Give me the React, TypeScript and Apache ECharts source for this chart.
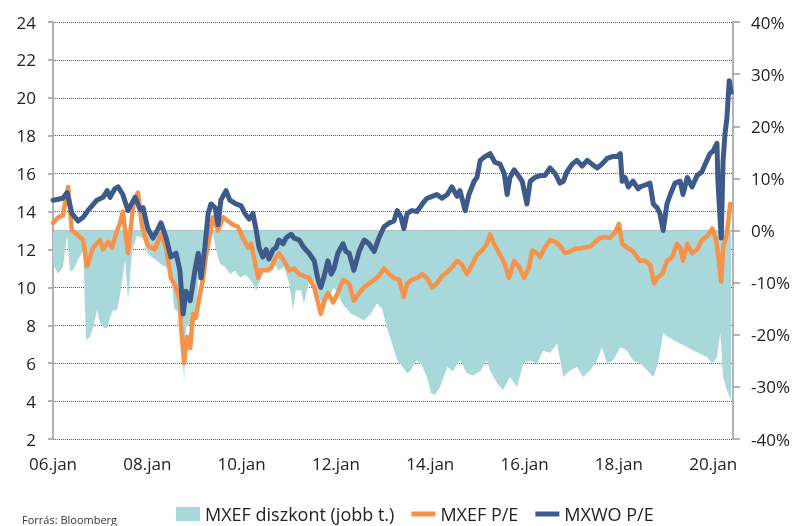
import React, { useEffect, useRef } from "react";
import * as echarts from "echarts";

// X positions are decimal years (2006.00 = Jan 2006)
const tickYears = [2006, 2008, 2010, 2012, 2014, 2016, 2018, 2020];

const mxwoYears = [
  2006.0, 2006.11, 2006.21, 2006.3, 2006.4, 2006.53, 2006.64, 2006.74, 2006.93, 2007.06, 2007.15, 2007.21,
  2007.31, 2007.38, 2007.48, 2007.59, 2007.74, 2007.85, 2007.91, 2008.01, 2008.12, 2008.21, 2008.29, 2008.4,
  2008.5, 2008.61, 2008.69, 2008.76, 2008.82, 2008.91, 2009.01, 2009.08, 2009.14, 2009.22, 2009.29, 2009.35,
  2009.44, 2009.5, 2009.56, 2009.67, 2009.75, 2009.88, 2009.99, 2010.07, 2010.16, 2010.24, 2010.31, 2010.37,
  2010.45, 2010.52, 2010.58, 2010.67, 2010.73, 2010.79, 2010.88, 2010.94, 2011.05, 2011.11, 2011.22, 2011.32,
  2011.43, 2011.54, 2011.62, 2011.68, 2011.75, 2011.83, 2011.9, 2011.96, 2012.04, 2012.15, 2012.21, 2012.28,
  2012.38, 2012.49, 2012.6, 2012.7, 2012.81, 2012.91, 2013.02, 2013.13, 2013.23, 2013.3, 2013.38, 2013.44,
  2013.51, 2013.61, 2013.72, 2013.83, 2013.93, 2014.04, 2014.14, 2014.25, 2014.36, 2014.46, 2014.57, 2014.63,
  2014.74, 2014.82, 2014.93, 2014.99, 2015.06, 2015.16, 2015.27, 2015.37, 2015.48, 2015.57, 2015.63, 2015.69,
  2015.78, 2015.84, 2015.95, 2016.05, 2016.12, 2016.22, 2016.33, 2016.43, 2016.54, 2016.65, 2016.75, 2016.82,
  2016.9, 2017.01, 2017.11, 2017.22, 2017.33, 2017.43, 2017.54, 2017.64, 2017.75, 2017.86, 2017.96, 2018.03,
  2018.07, 2018.13, 2018.2, 2018.3, 2018.41, 2018.45, 2018.56, 2018.66, 2018.73, 2018.81, 2018.87, 2018.94,
  2019.02, 2019.09, 2019.19, 2019.3, 2019.36, 2019.45, 2019.55, 2019.66, 2019.76, 2019.83, 2019.93, 2020.0,
  2020.08, 2020.1, 2020.17, 2020.21, 2020.25, 2020.29, 2020.34, 2020.38,
];
const mxwoPE = [
  14.6, 14.65, 14.7, 15.0, 13.9, 13.5, 13.7, 14.05, 14.6, 14.75, 15.1, 14.75,
  15.2, 15.3, 14.9, 14.05, 14.75, 14.1, 14.2, 13.1, 12.6, 13.0, 13.4, 12.6,
  11.6, 11.8, 10.9, 8.6, 9.8, 9.3, 10.9, 11.8, 10.5, 12.1, 13.9, 14.4,
  14.2, 13.3, 14.6, 15.1, 14.6, 14.4, 14.3, 13.9, 13.6, 13.9, 13.0, 12.1,
  11.6, 12.0, 11.5, 12.0, 12.1, 12.5, 12.3, 12.6, 12.8, 12.6, 12.5, 12.1,
  11.8, 11.4, 10.4, 10.0, 10.6, 11.4, 10.7, 11.0, 11.8, 12.3, 11.9, 11.8,
  10.9, 11.9, 12.5, 12.3, 11.9, 12.6, 13.2, 13.4, 13.5, 14.05, 13.7, 13.1,
  13.9, 14.05, 14.0, 14.4, 14.7, 14.8, 14.9, 14.7, 14.9, 15.3, 14.8, 15.1,
  14.05, 14.9, 15.6, 15.8, 16.7, 16.9, 17.05, 16.6, 16.5, 16.0, 14.9, 15.8,
  16.2, 16.0, 15.6, 14.4, 15.6, 15.8, 15.9, 15.9, 16.3, 16.0, 15.5, 15.6,
  16.1, 16.5, 16.7, 16.4, 16.7, 16.5, 16.3, 16.5, 16.8, 16.9, 16.9, 17.05,
  15.6, 15.8, 15.3, 15.6, 15.2, 15.3, 15.4, 15.5, 14.4, 14.2, 13.9, 13.0,
  14.4, 14.9, 15.5, 15.6, 14.9, 15.8, 15.3, 15.9, 16.1, 16.5, 17.05, 17.2,
  17.6, 15.6, 12.6, 16.7, 18.1, 18.9, 20.9, 20.3,
];

const mxefYears = [
  2006.0, 2006.11, 2006.21, 2006.32, 2006.4, 2006.51, 2006.64, 2006.72, 2006.85, 2007.0, 2007.06, 2007.17,
  2007.25, 2007.36, 2007.42, 2007.48, 2007.59, 2007.7, 2007.8, 2007.89, 2008.01, 2008.16, 2008.29, 2008.4,
  2008.5, 2008.61, 2008.69, 2008.71, 2008.78, 2008.84, 2008.91, 2008.97, 2009.03, 2009.12, 2009.18, 2009.24,
  2009.33, 2009.39, 2009.5, 2009.61, 2009.71, 2009.82, 2009.92, 2010.03, 2010.14, 2010.2, 2010.26, 2010.35,
  2010.41, 2010.52, 2010.62, 2010.73, 2010.79, 2010.9, 2011.01, 2011.11, 2011.22, 2011.32, 2011.43, 2011.54,
  2011.62, 2011.68, 2011.75, 2011.83, 2011.94, 2012.04, 2012.15, 2012.28, 2012.38, 2012.49, 2012.6, 2012.7,
  2012.81, 2012.91, 2013.02, 2013.13, 2013.23, 2013.34, 2013.44, 2013.51, 2013.61, 2013.72, 2013.83, 2013.93,
  2014.04, 2014.14, 2014.25, 2014.36, 2014.46, 2014.57, 2014.67, 2014.78, 2014.89, 2014.99, 2015.1, 2015.2,
  2015.27, 2015.35, 2015.46, 2015.57, 2015.67, 2015.78, 2015.88, 2015.99, 2016.1, 2016.16, 2016.27, 2016.33,
  2016.43, 2016.54, 2016.65, 2016.75, 2016.86, 2016.97, 2017.07, 2017.18, 2017.28, 2017.39, 2017.5, 2017.6,
  2017.71, 2017.81, 2017.92, 2018.0, 2018.07, 2018.17, 2018.28, 2018.39, 2018.45, 2018.56, 2018.66, 2018.75,
  2018.81, 2018.92, 2019.02, 2019.13, 2019.23, 2019.3, 2019.36, 2019.45, 2019.55, 2019.66, 2019.76, 2019.87,
  2019.98, 2020.06, 2020.1, 2020.17, 2020.21, 2020.29, 2020.36,
];
const mxefPE = [
  13.4, 13.7, 13.8, 15.3, 13.0, 12.8, 12.5, 11.1, 12.1, 12.5, 12.0, 12.4,
  12.1, 13.0, 13.4, 14.0, 11.8, 14.3, 15.0, 13.2, 12.2, 12.0, 12.8, 12.1,
  10.5, 10.0, 9.3, 8.1, 6.0, 7.4, 6.8, 8.6, 8.4, 9.7, 10.4, 11.6,
  12.8, 13.7, 13.0, 13.7, 13.5, 13.3, 13.2, 12.6, 12.1, 12.3, 11.6, 10.5,
  10.9, 10.9, 11.0, 11.6, 11.8, 11.4, 10.9, 11.0, 10.7, 10.6, 10.5, 10.0,
  9.2, 8.6, 9.3, 9.7, 9.2, 9.7, 10.4, 10.2, 9.3, 9.7, 10.0, 10.2,
  10.4, 10.6, 11.0, 10.7, 10.5, 10.4, 9.5, 10.2, 10.4, 10.5, 10.7, 10.5,
  10.0, 10.2, 10.6, 10.8, 11.05, 11.4, 11.2, 10.7, 11.2, 11.7, 11.95, 12.3,
  12.8, 12.3, 11.8, 11.3, 10.5, 11.4, 11.1, 10.5, 11.1, 11.95, 11.8, 11.6,
  12.1, 12.5, 12.4, 12.2, 11.8, 11.9, 12.05, 12.05, 12.1, 12.15, 12.4, 12.6,
  12.65, 12.6, 12.9, 13.35, 12.3, 12.1, 11.95, 11.6, 11.4, 11.4, 11.2, 10.2,
  10.5, 10.7, 11.4, 11.6, 12.3, 12.1, 11.4, 12.3, 11.8, 12.0, 12.5, 12.7,
  13.1, 12.5, 11.8, 10.3, 12.1, 12.8, 14.4,
];

const discYears = [
  2006.0, 2006.11, 2006.21, 2006.3, 2006.36, 2006.42, 2006.53, 2006.64, 2006.7, 2006.78, 2006.85, 2006.93,
  2007.0, 2007.08, 2007.15, 2007.21, 2007.27, 2007.36, 2007.42, 2007.53, 2007.59, 2007.68, 2007.78, 2007.91,
  2008.01, 2008.16, 2008.29, 2008.4, 2008.5, 2008.57, 2008.65, 2008.71, 2008.78, 2008.82, 2008.91, 2009.01,
  2009.08, 2009.18, 2009.29, 2009.39, 2009.46, 2009.54, 2009.65, 2009.75, 2009.86, 2009.97, 2010.09, 2010.2,
  2010.31, 2010.37, 2010.48, 2010.58, 2010.69, 2010.79, 2010.9, 2011.01, 2011.09, 2011.15, 2011.26, 2011.32,
  2011.43, 2011.54, 2011.64, 2011.75, 2011.85, 2011.96, 2012.07, 2012.17, 2012.32, 2012.45, 2012.6, 2012.74,
  2012.87, 2012.98, 2013.08, 2013.19, 2013.3, 2013.4, 2013.51, 2013.59, 2013.7, 2013.8, 2013.93, 2014.02,
  2014.1, 2014.21, 2014.36, 2014.48, 2014.63, 2014.78, 2014.91, 2015.06, 2015.2, 2015.27, 2015.42, 2015.54,
  2015.69, 2015.84, 2015.97, 2016.12, 2016.27, 2016.39, 2016.54, 2016.69, 2016.82, 2016.97, 2017.11, 2017.24,
  2017.39, 2017.54, 2017.64, 2017.75, 2017.88, 2018.03, 2018.17, 2018.3, 2018.45, 2018.6, 2018.73, 2018.83,
  2018.94, 2019.02, 2019.15, 2019.3, 2019.45, 2019.57, 2019.72, 2019.87, 2019.98, 2020.08, 2020.15, 2020.21,
  2020.29, 2020.38,
];
const discPct = [
  -6.4, -8.3, -7.0, -1.0, -7.7, -7.7, -5.7, -3.8, -21, -20.5, -18.6, -15.3,
  -17.8, -18.6, -18.8, -16.6, -15.3, -15.3, -12.5, -5.7, -13.4, -3.8, -1.0, -1.5,
  -4.5, -5.5, -6.5, -7.0, -7.7, -15, -15.5, -17.5, -29, -18.6, -18, -18,
  -9.6, -7.7, -1.3, -0.5, -3.8, -6.4, -7.0, -8.3, -7.7, -9.0, -8.5, -9.6,
  -11.5, -10.0, -7.7, -8.3, -6.4, -7.7, -7.0, -10.2, -15.3, -11.5, -11.5, -14.0,
  -10.0, -9.6, -12.8, -15.3, -12.8, -10.9, -12.8, -14.5, -15.9, -16.6, -17.2, -16.0,
  -14.0, -15.0, -18.6, -21.7, -24.9, -26.0, -27.4, -26.8, -24.9, -25.5, -28.1, -31.2,
  -31.5, -30, -26.2, -27.0, -24.9, -27.4, -27.8, -27.0, -24.9, -27.0, -29.3, -30.6,
  -28.1, -30, -25.5, -25.0, -25.5, -23, -23.5, -21.7, -28.1, -26.8, -26.2, -28.1,
  -26.8, -24.9, -22.4, -25.5, -24.9, -22.4, -23.0, -24.9, -25.5, -26.8, -28.1, -25.5,
  -19.7, -20.3, -21, -21.7, -22.4, -23, -23.6, -24.3, -25.5, -24.3, -19.7, -28.1,
  -30.6, -32.6,
];

const seriesNames = ["MXEF diszkont (jobb t.)", "MXEF P/E", "MXWO P/E"];
const sourceText = "Forrás: Bloomberg";

const TEAL = "#a8d8da";
const ORANGE = "#f7924b";
const NAVY = "#3d5a8b";
const FONT = "Open Sans";

// legend icon: thick horizontal bar inside a 24x14 box (tiny corner marks keep the box)
const LINE_ICON = "path://M0,0 L0.01,0 L0.01,0.01 Z M0,4.5 L24,4.5 L24,9.5 L0,9.5 Z M24,14 L23.99,14 L23.99,13.99 Z";

const pairs = (xs: number[], ys: number[]) => xs.map((x, i) => [x, ys[i]]);

export default function App() {
  const ref = useRef<HTMLDivElement>(null);
  useEffect(() => {
    if (!ref.current) return;
    const chart = echarts.init(ref.current, null, { renderer: "svg" });
    const axisLineStyle = { color: "#9a9a9a", width: 1.5 };
    chart.setOption({
      animation: false,
      textStyle: { fontFamily: FONT },
      grid: { left: 53, right: 59, top: 22, bottom: 87, containLabel: false, outerBoundsMode: "none" },
      legend: {
        left: 171,
        top: 500,
        itemWidth: 24,
        itemHeight: 14,
        itemGap: 17,
        textStyle: { fontFamily: FONT, fontSize: 18, color: "#222" },
        data: [
          { name: seriesNames[0], icon: "rect" },
          { name: seriesNames[1], icon: LINE_ICON },
          { name: seriesNames[2], icon: LINE_ICON },
        ],
      },
      xAxis: {
        type: "value",
        min: 2006,
        max: 2020.42,
        interval: 2,
        axisLine: { show: true, lineStyle: axisLineStyle },
        axisTick: { show: true, length: 7, lineStyle: axisLineStyle, customValues: tickYears },
        axisLabel: {
          customValues: tickYears,
          fontFamily: FONT,
          fontSize: 17,
          color: "#222",
          margin: 16,
          formatter: (v: number) => (Number.isInteger(v) && v % 2 === 0 ? `${String(v).slice(2)}.jan` : ""),
        },
        splitLine: { show: false },
      },
      yAxis: [
        {
          type: "value",
          min: 2,
          max: 24,
          interval: 2,
          axisLine: { show: true, lineStyle: axisLineStyle },
          axisTick: { show: true, length: 5, lineStyle: axisLineStyle },
          axisLabel: { fontFamily: FONT, fontSize: 17, color: "#222", margin: 17 },
          splitLine: { show: true, lineStyle: { color: "#555", type: [1, 1], width: 1 } },
        },
        {
          type: "value",
          min: -40,
          max: 40,
          interval: 10,
          position: "right",
          axisLine: { show: true, lineStyle: axisLineStyle },
          axisTick: { show: true, length: 7, lineStyle: axisLineStyle },
          axisLabel: { fontFamily: FONT, fontSize: 17, color: "#222", margin: 18, formatter: (v: number) => `${v}%` },
          splitLine: { show: false },
        },
      ],
      series: [
        {
          name: seriesNames[0],
          type: "line",
          yAxisIndex: 1,
          data: pairs(discYears, discPct),
          showSymbol: false,
          symbol: "none",
          color: TEAL,
          lineStyle: { width: 0, color: TEAL },
          areaStyle: { color: TEAL, opacity: 1 },
          itemStyle: { color: TEAL },
        },
        {
          name: seriesNames[1],
          type: "line",
          data: pairs(mxefYears, mxefPE),
          showSymbol: false,
          symbol: "none",
          color: ORANGE,
          lineStyle: { width: 4.5, color: ORANGE, join: "round", cap: "round" },
          itemStyle: { color: ORANGE },
        },
        {
          name: seriesNames[2],
          type: "line",
          data: pairs(mxwoYears, mxwoPE),
          showSymbol: false,
          symbol: "none",
          color: NAVY,
          lineStyle: { width: 5, color: NAVY, join: "round", cap: "round" },
          itemStyle: { color: NAVY },
        },
      ],
      graphic: [
        {
          type: "text",
          left: 22,
          top: 514,
          style: { text: sourceText, fontFamily: FONT, fontSize: 11, fill: "#333" },
        },
      ],
    });
    return () => chart.dispose();
  }, []);
  return <div ref={ref} style={{ position: "fixed", left: 0, top: 0, width: 792, height: 526 }} />;
}
